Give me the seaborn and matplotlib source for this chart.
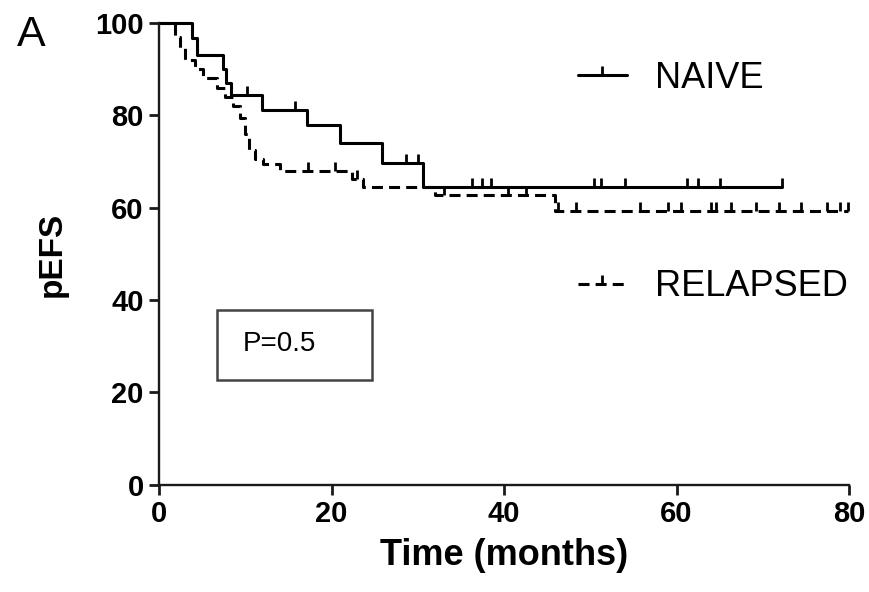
import numpy as np
import pandas as pd
import matplotlib
matplotlib.use("Agg")
import matplotlib.pyplot as plt
from matplotlib.path import Path
from matplotlib.lines import Line2D
from matplotlib.patches import Rectangle
import seaborn as sns

# Kaplan-Meier step curves: event times (months) and pEFS after each step
naive_times = [0, 3.8, 4.4, 7.4, 7.8, 8.4, 11.9, 17.2, 21.0, 25.8, 30.6, 72.2]
naive_pefs = [100, 96.8, 93.0, 90.0, 87.0, 84.4, 81.2, 77.9, 74.0, 69.8, 64.5, 64.5]
naive_censored = [10.2, 15.8, 28.6, 30.0, 36.3, 37.4, 38.5, 50.4, 51.3, 54.0,
                  61.2, 62.5, 65.0, 72.2]

relapsed_times = [0, 1.9, 2.4, 3.0, 4.2, 5.1, 6.7, 7.7, 8.6, 9.4, 10.0, 10.4,
                  11.1, 12.0, 14.0, 22.4, 23.7, 32.0, 45.9, 79.9]
relapsed_pefs = [100, 97.0, 94.5, 92.0, 90.0, 88.0, 86.0, 84.0, 82.0, 79.5, 76.0,
                 72.5, 70.5, 69.5, 68.0, 66.2, 64.4, 62.8, 59.2, 59.2]
relapsed_censored = [17.3, 20.4, 23.0, 33.0, 40.5, 42.5, 46.3, 48.3, 55.8, 59.0,
                     60.5, 64.0, 64.6, 66.3, 69.2, 71.9, 74.4, 77.4, 79.0, 79.9]

groups = ["NAIVE", "RELAPSED"]
x_ticks = [0, 20, 40, 60, 80]
y_ticks = [0, 20, 40, 60, 80, 100]
p_label = "P=0.5"

sns.set_style("ticks")
plt.rcParams["font.family"] = ["Liberation Sans", "DejaVu Sans"]
plt.rcParams["text.color"] = "black"
plt.rcParams["axes.labelcolor"] = "black"
plt.rcParams["xtick.color"] = "black"
plt.rcParams["ytick.color"] = "black"

df = pd.concat([
    pd.DataFrame({"time": naive_times, "pefs": naive_pefs, "group": groups[0]}),
    pd.DataFrame({"time": relapsed_times, "pefs": relapsed_pefs, "group": groups[1]}),
], ignore_index=True)

fig = plt.figure(figsize=(8.69, 5.92), dpi=100)
ax = fig.add_axes([0.183, 0.181, 0.794, 0.780])

LW = 2.2
dash_map = {"NAIVE": "", "RELAPSED": (3.6, 2.0)}
sns.lineplot(data=df, x="time", y="pefs", style="group", dashes=dash_map,
             color="black", linewidth=LW, drawstyle="steps-post",
             estimator=None, sort=False, legend=False, ax=ax, clip_on=False)

# censor ticks: short vertical strokes rising from the curve
tick_mark = Path([(0, 0), (0, 1)])


def level_at(times, values, t):
    idx = np.searchsorted(np.asarray(times), t, side="right") - 1
    return np.asarray(values)[idx]


for times, vals, cens in [(naive_times, naive_pefs, naive_censored),
                          (relapsed_times, relapsed_pefs, relapsed_censored)]:
    ys = [level_at(times, vals, c) for c in cens]
    ax.plot(cens, ys, ls="none", marker=tick_mark, markersize=13,
            mfc="none", mec="black", mew=2.0, clip_on=False)

ax.set_xlim(0, 80)
ax.set_ylim(0, 100)
ax.set_xticks(x_ticks)
ax.set_yticks(y_ticks)
sns.despine(ax=ax)
for side in ["left", "bottom"]:
    ax.spines[side].set_linewidth(1.7)
    ax.spines[side].set_color("#1a1a1a")
ax.tick_params(axis="both", length=7, width=2.0, color="#1a1a1a",
               labelcolor="black", labelsize=21, pad=4)
for lbl in ax.get_xticklabels() + ax.get_yticklabels():
    lbl.set_fontweight("bold")

ax.set_xlabel("Time (months)", fontsize=26, fontweight="bold", labelpad=7)
ax.set_ylabel("pEFS", fontsize=24, fontweight="bold", labelpad=20)

# legend with the two curve styles, widely spaced
handles = [
    Line2D([], [], color="black", lw=LW, marker=tick_mark, markersize=13,
           mfc="none", mec="black", mew=2.0),
    Line2D([], [], color="black", lw=LW, ls=(0, (3.6, 2.0)), marker=tick_mark,
           markersize=13, mfc="none", mec="black", mew=2.0),
]
ax.legend(handles, groups, loc="upper left", bbox_to_anchor=(0.607, 0.918),
          frameon=False, fontsize=26, handlelength=1.35, handletextpad=0.8,
          labelspacing=4.8, borderpad=0, borderaxespad=0, numpoints=1)

# p-value box
ax.add_patch(Rectangle((0.084, 0.227), 0.225, 0.152, transform=ax.transAxes,
                       fill=False, edgecolor="#444444", linewidth=1.8,
                       clip_on=False))
ax.text(0.122, 0.305, p_label, transform=ax.transAxes, fontsize=20,
        ha="left", va="center")

fig.text(0.02, 0.975, "A", fontsize=31, ha="left", va="top")

fig.savefig("out.png", dpi=100)
